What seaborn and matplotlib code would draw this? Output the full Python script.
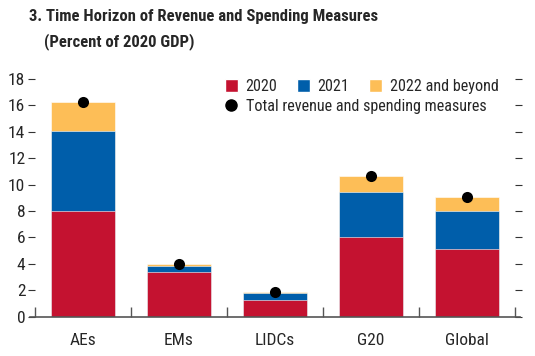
import matplotlib
matplotlib.use("Agg")
import matplotlib.pyplot as plt
import seaborn as sns
import pandas as pd
import numpy as np
from matplotlib.patches import Patch
from matplotlib.lines import Line2D

categories = ["AEs", "EMs", "LIDCs", "G20", "Global"]
v2020 = [8.03, 3.39, 1.29, 6.01, 5.13]
v2021 = [6.06, 0.47, 0.48, 3.41, 2.90]
v2022 = [2.15, 0.13, 0.08, 1.26, 1.06]
total = [16.26, 4.0, 1.85, 10.66, 9.07]
yticks = [0, 2, 4, 6, 8, 10, 12, 14, 16, 18]

sns.set_style("white")
plt.rcParams["font.family"] = ["Roboto Condensed", "Archivo Narrow", "Liberation Sans", "DejaVu Sans"]

RED = "#C41230"
BLUE = "#005EAA"
YEL = "#FDBE57"

df = pd.DataFrame({"cat": categories, "a": v2020, "b": v2021, "c": v2022, "t": total})
df["c1"] = df["a"]
df["c2"] = df["a"] + df["b"]
df["c3"] = df["c2"] + df["c"]

fig = plt.figure(figsize=(5.35, 3.56), dpi=100)
ax = fig.add_axes([0.0654, 0.1104, 0.8972, 0.6676])

for col, color in [("c3", YEL), ("c2", BLUE), ("c1", RED)]:
    sns.barplot(data=df, x="cat", y=col, color=color, saturation=1, width=0.67,
                edgecolor="white", linewidth=0.4, ax=ax, order=categories)

sns.stripplot(data=df, x="cat", y="t", color="black", size=8, jitter=False,
              ax=ax, order=categories, zorder=5)

ax.set_xlim(-0.5, 4.5)
ax.set_ylim(0, 18)
ax.set_xlabel("")
ax.set_ylabel("")
ax.set_yticks(yticks)
ax.set_yticklabels([str(t) for t in yticks])
for s in ["left", "right", "top"]:
    ax.spines[s].set_visible(False)
ax.spines["bottom"].set_color("#555555")
ax.spines["bottom"].set_linewidth(1.2)
ax.spines["bottom"].set_bounds(-0.55, 4.55)
ax.tick_params(axis="y", which="both", left=True, right=True, direction="out",
               length=5, width=0.8, color="#333333", labelsize=12.5, pad=2)
ax.tick_params(axis="x", bottom=False, labelsize=12.5, pad=8)
ax.set_xticks(np.arange(-0.5, 5.0, 1.0), minor=True)
ax.tick_params(axis="x", which="minor", bottom=True, direction="in", length=7,
               width=1, color="#555555")

fig.text(0.054, 0.955, "3. Time Horizon of Revenue and Spending Measures",
         fontsize=12, fontweight="bold", va="center", ha="left")
fig.text(0.082, 0.882, "(Percent of 2020 GDP)", fontsize=12, fontweight="bold",
         va="center", ha="left")

h1 = [Patch(facecolor=RED), Patch(facecolor=BLUE), Patch(facecolor=YEL)]
leg1 = fig.legend(h1, ["2020", "2021", "2022 and beyond"], ncol=3,
                  loc="center left", bbox_to_anchor=(0.42, 0.757), frameon=False,
                  fontsize=11.6, handlelength=0.8, handleheight=0.8,
                  handletextpad=0.5, columnspacing=1.2, borderpad=0, borderaxespad=0)
h2 = [Line2D([], [], marker="o", color="black", linestyle="none", markersize=8)]
leg2 = fig.legend(h2, ["Total revenue and spending measures"], loc="center left",
                  bbox_to_anchor=(0.42, 0.701), frameon=False, fontsize=11.6,
                  handlelength=0.8, handletextpad=0.5, borderpad=0, borderaxespad=0)

fig.savefig("out.png", dpi=100)
